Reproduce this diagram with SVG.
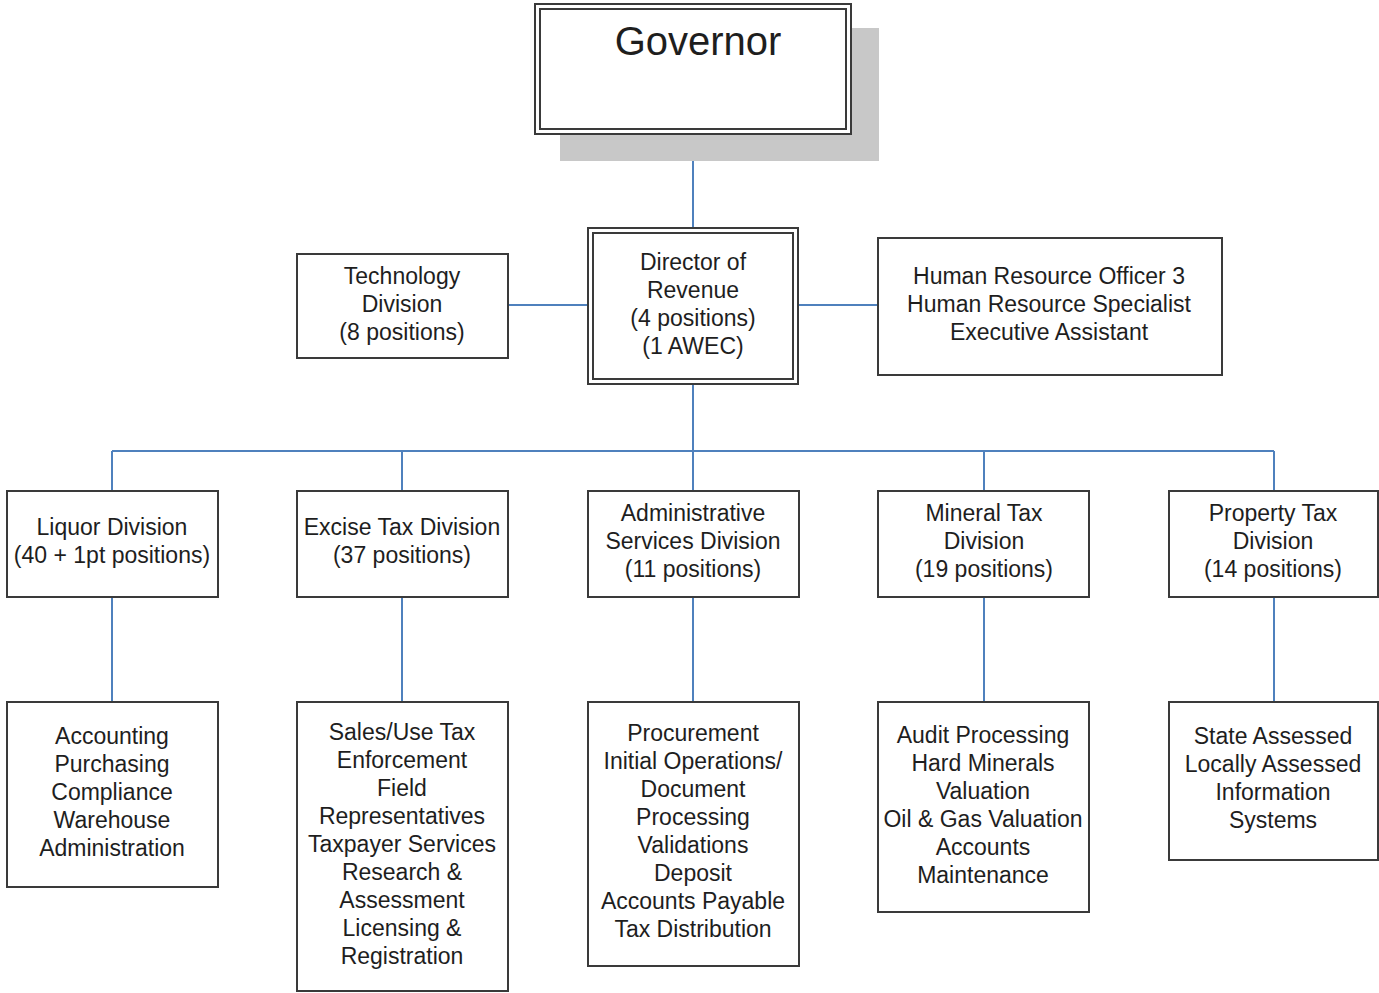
<svg xmlns="http://www.w3.org/2000/svg" width="1379" height="993" viewBox="0 0 1379 993">
<style>
.box{fill:#fff;stroke:#3a3a3a;stroke-width:2}
.t{font-family:"Liberation Sans",Arial,sans-serif;font-size:23px;fill:#1e1e1e;text-anchor:middle}
.c{fill:none;stroke:#4f81bd;stroke-width:2}
</style>
<rect width="1379" height="993" fill="#fff"/>
<g id="connectors">
<path class="c" d="M693 135V227M508 305H587M799 305H877M693 385V451M112 451H1274M112 451V490M402 451V490M693 451V490M984 451V490M1274 451V490M112 597V701M402 597V701M693 597V701M984 597V701M1274 597V701"/>
</g>
<g id="governor">
<rect x="560" y="28" width="319" height="133" fill="#c8c8c8"/>
<rect class="box" x="535" y="4" width="316" height="130"/>
<rect class="box" x="540" y="9" width="306" height="120"/>
<text class="t" x="698" y="55" style="font-size:40px">Governor</text>
</g>
<g id="director">
<rect class="box" x="588" y="228" width="210" height="156"/>
<rect class="box" x="593" y="233" width="200" height="146"/>
<text class="t" x="693"><tspan x="693" y="270">Director of</tspan><tspan x="693" y="298">Revenue</tspan><tspan x="693" y="326">(4 positions)</tspan><tspan x="693" y="354">(1 AWEC)</tspan></text>
</g>
<g id="technology">
<rect class="box" x="297" y="254" width="211" height="104"/>
<text class="t"><tspan x="402" y="284">Technology</tspan><tspan x="402" y="312">Division</tspan><tspan x="402" y="340">(8 positions)</tspan></text>
</g>
<g id="hr">
<rect class="box" x="878" y="238" width="344" height="137"/>
<text class="t"><tspan x="1049" y="284">Human Resource Officer 3</tspan><tspan x="1049" y="312">Human Resource Specialist</tspan><tspan x="1049" y="340">Executive Assistant</tspan></text>
</g>
<g id="liquor">
<rect class="box" x="7" y="491" width="211" height="106"/>
<text class="t"><tspan x="112" y="535">Liquor Division</tspan><tspan x="112" y="563">(40 + 1pt positions)</tspan></text>
</g>
<g id="excise">
<rect class="box" x="297" y="491" width="211" height="106"/>
<text class="t"><tspan x="402" y="535">Excise Tax Division</tspan><tspan x="402" y="563">(37 positions)</tspan></text>
</g>
<g id="admin">
<rect class="box" x="588" y="491" width="211" height="106"/>
<text class="t"><tspan x="693" y="521">Administrative</tspan><tspan x="693" y="549">Services Division</tspan><tspan x="693" y="577">(11 positions)</tspan></text>
</g>
<g id="mineral">
<rect class="box" x="878" y="491" width="211" height="106"/>
<text class="t"><tspan x="984" y="521">Mineral Tax</tspan><tspan x="984" y="549">Division</tspan><tspan x="984" y="577">(19 positions)</tspan></text>
</g>
<g id="property">
<rect class="box" x="1169" y="491" width="209" height="106"/>
<text class="t"><tspan x="1273" y="521">Property Tax</tspan><tspan x="1273" y="549">Division</tspan><tspan x="1273" y="577">(14 positions)</tspan></text>
</g>
<g id="liquor-units">
<rect class="box" x="7" y="702" width="211" height="185"/>
<text class="t"><tspan x="112" y="744">Accounting</tspan><tspan x="112" y="772">Purchasing</tspan><tspan x="112" y="800">Compliance</tspan><tspan x="112" y="828">Warehouse</tspan><tspan x="112" y="856">Administration</tspan></text>
</g>
<g id="excise-units">
<rect class="box" x="297" y="702" width="211" height="289"/>
<text class="t"><tspan x="402" y="740">Sales/Use Tax</tspan><tspan x="402" y="768">Enforcement</tspan><tspan x="402" y="796">Field</tspan><tspan x="402" y="824">Representatives</tspan><tspan x="402" y="852">Taxpayer Services</tspan><tspan x="402" y="880">Research &amp;</tspan><tspan x="402" y="908">Assessment</tspan><tspan x="402" y="936">Licensing &amp;</tspan><tspan x="402" y="964">Registration</tspan></text>
</g>
<g id="admin-units">
<rect class="box" x="588" y="702" width="211" height="264"/>
<text class="t"><tspan x="693" y="741">Procurement</tspan><tspan x="693" y="769">Initial Operations/</tspan><tspan x="693" y="797">Document</tspan><tspan x="693" y="825">Processing</tspan><tspan x="693" y="853">Validations</tspan><tspan x="693" y="881">Deposit</tspan><tspan x="693" y="909">Accounts Payable</tspan><tspan x="693" y="937">Tax Distribution</tspan></text>
</g>
<g id="mineral-units">
<rect class="box" x="878" y="702" width="211" height="210"/>
<text class="t"><tspan x="983" y="743">Audit Processing</tspan><tspan x="983" y="771">Hard Minerals</tspan><tspan x="983" y="799">Valuation</tspan><tspan x="983" y="827">Oil &amp; Gas Valuation</tspan><tspan x="983" y="855">Accounts</tspan><tspan x="983" y="883">Maintenance</tspan></text>
</g>
<g id="property-units">
<rect class="box" x="1169" y="702" width="209" height="158"/>
<text class="t"><tspan x="1273" y="744">State Assessed</tspan><tspan x="1273" y="772">Locally Assessed</tspan><tspan x="1273" y="800">Information</tspan><tspan x="1273" y="828">Systems</tspan></text>
</g>
</svg>
